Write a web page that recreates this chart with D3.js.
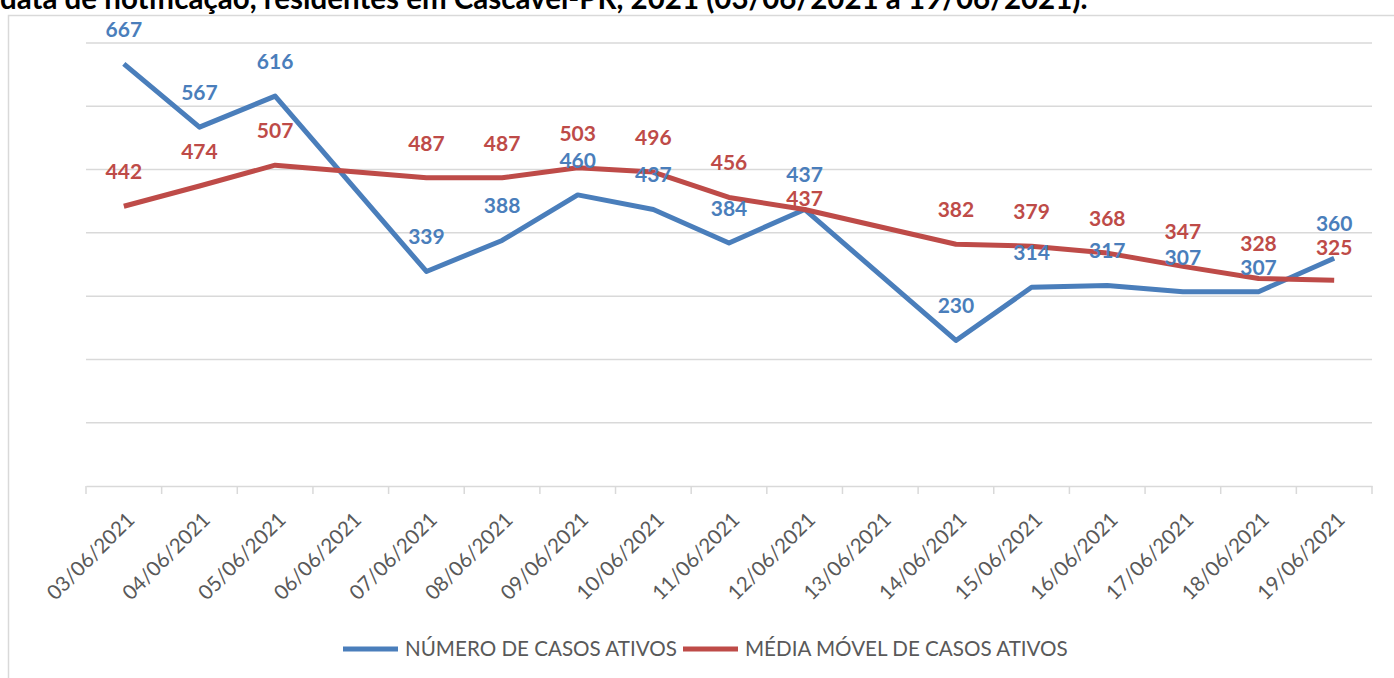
<!DOCTYPE html>
<html>
<head>
<meta charset="utf-8">
<script src="https://cdn.jsdelivr.net/npm/d3@7"></script>
<style>
    body { margin: 0; background: #fff; }
    svg { display: block; font-family: Lato, "Open Sans", sans-serif; }
</style>
</head>
<body>
<svg width="1394" height="678"></svg>
<script>
var dates = ["03/06/2021", "04/06/2021", "05/06/2021", "06/06/2021", "07/06/2021", "08/06/2021",
    "09/06/2021", "10/06/2021", "11/06/2021", "12/06/2021", "13/06/2021", "14/06/2021",
    "15/06/2021", "16/06/2021", "17/06/2021", "18/06/2021", "19/06/2021"];
// null = sem registro no dia (a linha passa direto)
var casosAtivos = [667, 567, 616, null, 339, 388, 460, 437, 384, 437, null, 230, 314, 317, 307, 307, 360];
var mediaMovel = [442, 474, 507, null, 487, 487, 503, 496, 456, 437, null, 382, 379, 368, 347, 328, 325];
var yTicks = [0, 100, 200, 300, 400, 500, 600, 700];
var seriesNames = ["NÚMERO DE CASOS ATIVOS", "MÉDIA MÓVEL DE CASOS ATIVOS"];
var title = "data de notificação, residentes em Cascavel-PR, 2021 (03/06/2021 a 19/06/2021).";

var blue = "#4a7ebb", red = "#be4b48", grid = "#d9d9d9", textGrey = "#595959";

var svg = d3.select("svg");

// title (cut at the top in the original)
svg.append("text")
    .attr("x", 0)
    .attr("y", 9)
    .attr("font-size", "29.5px")
    .attr("font-weight", "bold")
    .style("fill", "black")
    .text(title);

// chart area border
svg.append("rect")
    .attr("x", 8.5)
    .attr("y", 15.5)
    .attr("width", 1420)
    .attr("height", 700)
    .attr("fill", "none")
    .attr("stroke", grid)
    .attr("stroke-width", 1.5);

//define scales
var x = d3.scaleBand().domain(dates).range([86, 1372]),
    y = d3.scaleLinear().domain([0, 700]).range([486, 43]);

var g = svg.append("g");

//gridlines
g.selectAll(".grid")
    .data(yTicks.filter(function (d) { return d > 0; }))
    .enter().append("line")
    .attr("class", "grid")
    .attr("x1", 86).attr("x2", 1372)
    .attr("y1", function (d) { return y(d); })
    .attr("y2", function (d) { return y(d); })
    .attr("stroke", grid)
    .attr("stroke-width", 1.5);

//x axis
var xAxis = g.append("g")
    .attr("transform", "translate(0," + y(0) + ")")
    .call(d3.axisBottom(x).tickSize(0).tickFormat(""));
xAxis.select(".domain").attr("stroke", grid).attr("stroke-width", 1.5);

// tick marks sit between categories
g.selectAll(".tickmark")
    .data(dates.concat(["end"]))
    .enter().append("line")
    .attr("class", "tickmark")
    .attr("x1", function (d, i) { return i < dates.length ? x(d) : x.range()[1]; })
    .attr("x2", function (d, i) { return i < dates.length ? x(d) : x.range()[1]; })
    .attr("y1", y(0))
    .attr("y2", y(0) + 8)
    .attr("stroke", grid)
    .attr("stroke-width", 1.5);

g.selectAll(".xlabel")
    .data(dates)
    .enter().append("text")
    .attr("class", "xlabel")
    .attr("transform", function (d) {
        return "translate(" + (x(d) + x.bandwidth() / 2 + 12) + "," + 521 + ") rotate(-45)";
    })
    .attr("text-anchor", "end")
    .attr("font-size", "20.5px")
    .style("fill", textGrey)
    .text(function (d) { return d; });

//lines
var series = [
    { name: seriesNames[0], values: casosAtivos, color: blue },
    { name: seriesNames[1], values: mediaMovel, color: red }
];

var line = d3.line()
    .x(function (d) { return x(d.date) + x.bandwidth() / 2; })
    .y(function (d) { return y(d.value); });

function points(values) {
    return dates.map(function (d, i) { return { date: d, value: values[i] }; })
        .filter(function (d) { return d.value !== null; });
}

series.forEach(function (s) {
    g.append("path")
        .datum(points(s.values))
        .attr("fill", "none")
        .attr("stroke", s.color)
        .attr("stroke-width", 5)
        .attr("stroke-linejoin", "round")
        .attr("d", line);
});

//data labels: above the point, pushed down when two labels of one day collide
var labelY = series.map(function (s) {
    return s.values.map(function (v) { return v === null ? null : y(v) - 27; });
});
dates.forEach(function (d, i) {
    var a = labelY[0][i], b = labelY[1][i];
    if (a === null || b === null || Math.abs(a - b) >= 24) return;
    // the lower value (or the second series on a tie) moves down
    if (casosAtivos[i] < mediaMovel[i]) labelY[0][i] = b + 24;
    else labelY[1][i] = a + 24;
});

series.forEach(function (s, k) {
    g.selectAll(null)
        .data(dates.map(function (d, i) { return { date: d, value: s.values[i], ly: labelY[k][i] }; })
            .filter(function (d) { return d.value !== null; }))
        .enter().append("text")
        .attr("x", function (d) { return x(d.date) + x.bandwidth() / 2; })
        .attr("y", function (d) { return d.ly; })
        .attr("text-anchor", "middle")
        .attr("font-size", "21px")
        .attr("font-weight", "bold")
        .style("fill", s.color)
        .text(function (d) { return d.value; });
});

//legend
var legend = svg.append("g");
var lx = [343, 683];
series.forEach(function (s, i) {
    legend.append("line")
        .attr("x1", lx[i]).attr("x2", lx[i] + 55)
        .attr("y1", 649).attr("y2", 649)
        .attr("stroke", s.color)
        .attr("stroke-width", 5);
    legend.append("text")
        .attr("x", lx[i] + 62)
        .attr("y", 656)
        .attr("font-size", "20.6px")
        .style("fill", textGrey)
        .text(s.name);
});
</script>
</body>
</html>
